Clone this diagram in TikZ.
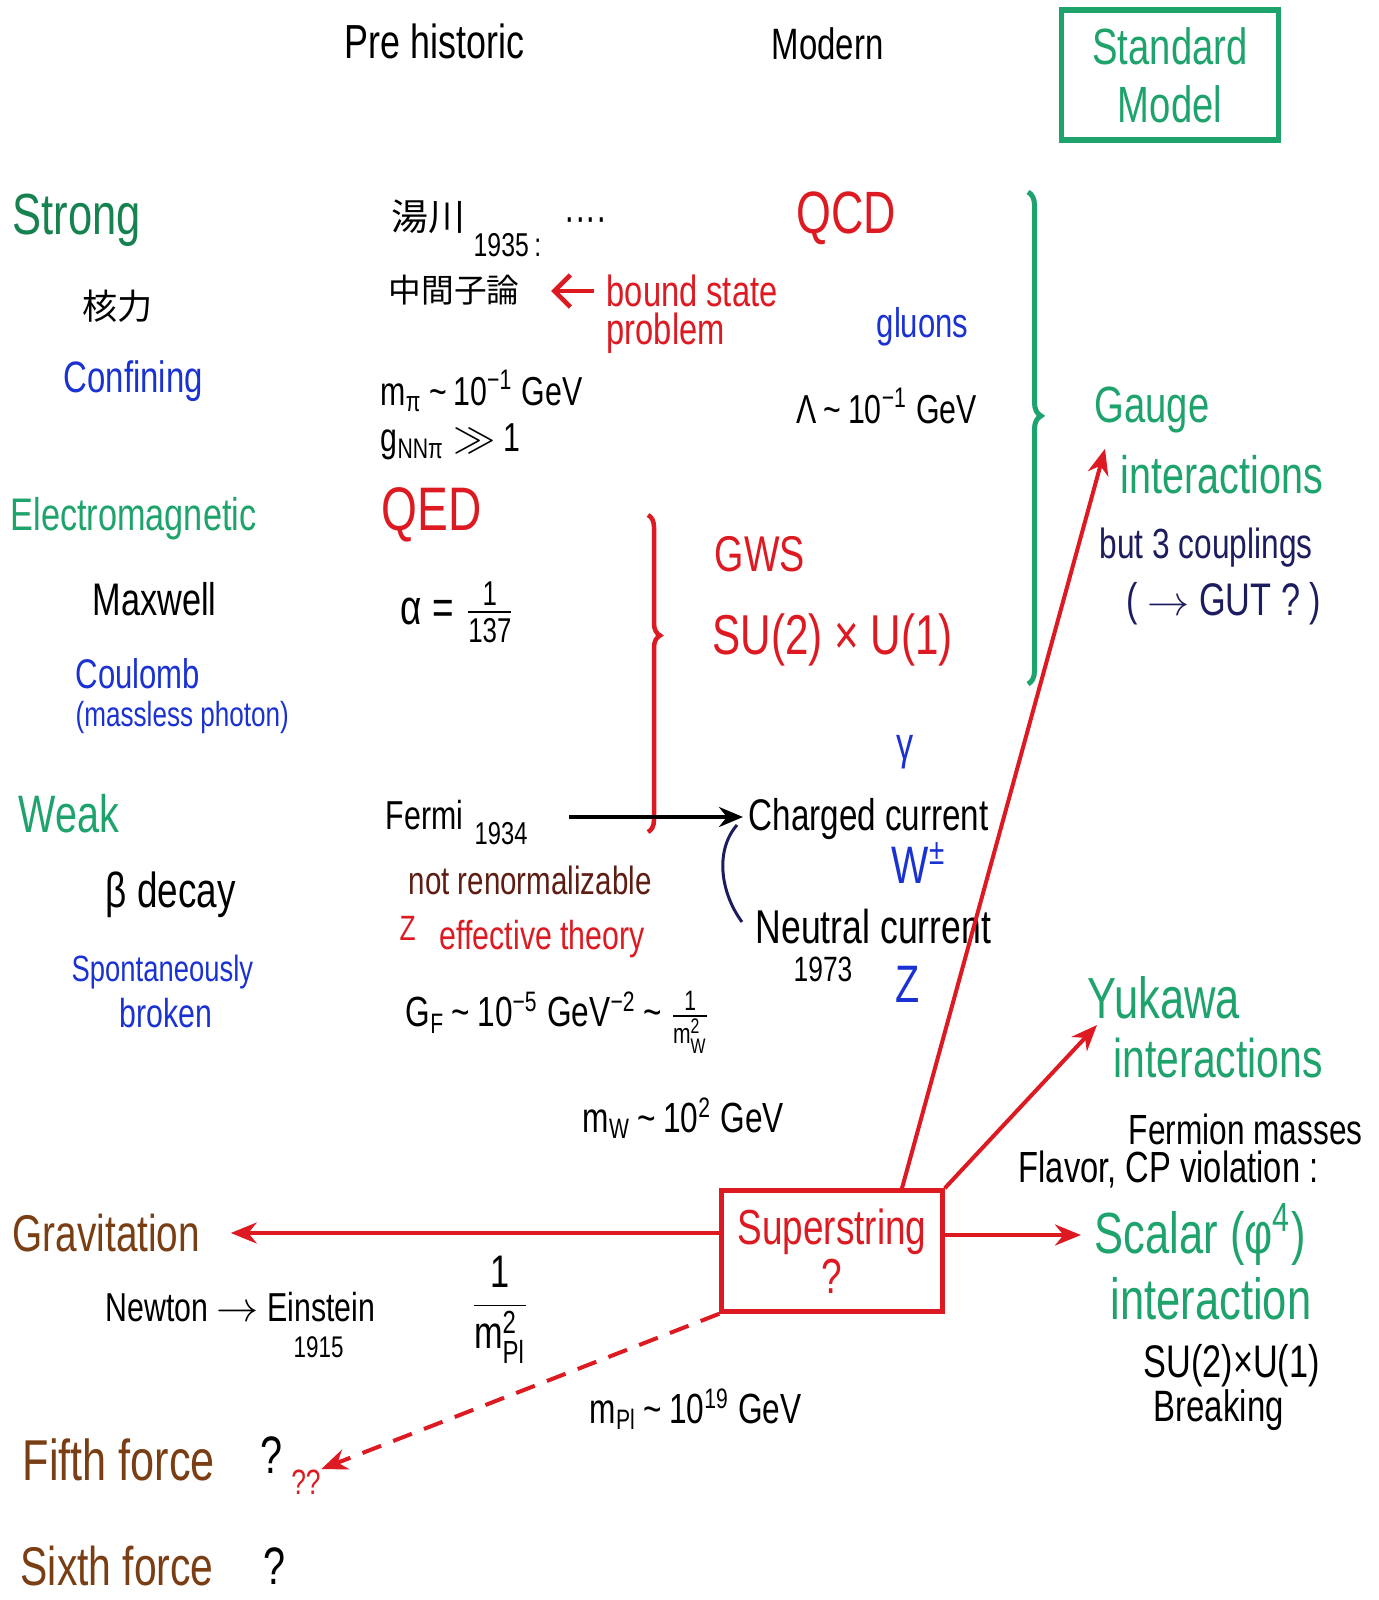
\documentclass[tikz,border=0pt]{standalone}
\usepackage{amsmath}
\usepackage{fontspec}
\setmainfont{Liberation Sans}[FakeStretch=0.75]
\newfontfamily\cjk{Noto Sans CJK JP}
\usepackage{xcolor}
\definecolor{SMGreen}{HTML}{1FA36C}
\definecolor{StrongGreen}{HTML}{15824F}
\definecolor{InkRed}{HTML}{DD1A22}
\definecolor{InkBlue}{HTML}{1B32D2}
\definecolor{InkBrown}{HTML}{7A3E14}
\definecolor{InkMaroon}{HTML}{5E1C12}
\definecolor{InkNavy}{HTML}{1C1C5E}
\usetikzlibrary{arrows.meta, calc, decorations.pathreplacing}
\newcommand{\tl}{\,\textasciitilde\,}

\begin{document}
\begin{tikzpicture}[x=0.1mm, y=-0.1mm,
  txt/.style={anchor=west, inner sep=0pt},
  pen/.style={font=\fontsize{#1}{#1}\selectfont},
  redarrow/.style={InkRed, line width=0.4mm, -{Stealth[length=2.6mm, width=2.1mm]}},
]
\useasboundingbox (0,0) rectangle (1378,1600);

% column heads
\node[txt, pen=13.6] (prehist) at (344,41) {Pre historic};
\node[txt, pen=12.5] (modern) at (771,44) {Modern};
\node[draw=SMGreen, line width=0.55mm, text=SMGreen, pen=14.5, align=center,
  minimum width=21.7mm, minimum height=13mm, inner sep=0pt] (sm) at (1170,75) {Standard\\[2pt]Model};

% strong
\node[txt, StrongGreen, pen=16.5] (strong) at (12,220) {Strong};
\node[txt, font={\cjk\fontsize{10}{10}\selectfont}] (kaku) at (82,306) {核力};
\node[txt, InkBlue, pen=12.5] (confining) at (63,381) {Confining};
\node[txt, font={\cjk\fontsize{10.5}{10.5}\selectfont}] (yukawaname) at (391,217) {湯川};
\node[txt, pen=9.4] (y1935) at (473,245) {1935\,:};
\node[txt, pen=12] (dots) at (564,225) {····};
\node[txt, font={\cjk\fontsize{9.3}{9.3}\selectfont}] (meson) at (388,290) {中間子論};
\node[txt, InkRed, pen=12.4] (bound) at (606,291) {bound state};
\node[txt, InkRed, pen=12.4] (problem) at (606,333) {problem};
\draw[InkRed, line width=0.45mm, -{Straight Barb[length=1.6mm, width=3.2mm]},
  shorten <=1.2mm, shorten >=3.1mm] (bound.west) -- (bound.west -| meson.east);
\node[txt, InkRed, pen=17] (qcd) at (796,218) {QCD};
\node[txt, InkBlue, pen=11.8] (gluons) at (876,327) {gluons};
\node[txt, pen=11.5] (mpi) at (380,391) {m\textsubscript{π}\tl10\textsuperscript{−1} GeV};
\node[txt, pen=11.5] (gnn) at (380,442) {g\textsubscript{NNπ} $\gg$ 1};
\node[txt, pen=11.5] (lambda) at (796,406) {Λ\tl10\textsuperscript{−1} GeV};

% gauge brace
\draw[SMGreen, line width=0.5mm, decorate, decoration={brace, amplitude=1.3mm, aspect=0.455}]
  (1028,192) -- (1028,684);
\node[txt, SMGreen, pen=14.5] (gauge) at (1094,410) {Gauge};
\node[txt, SMGreen, pen=15] (ginter) at (1120,475) {interactions};
\node[txt, InkNavy, pen=12] (couplings) at (1099,548) {but 3 couplings};
\node[txt, InkNavy, pen=13] (gut) at (1126,604) {( $\rightarrow$ GUT ? )};

% electromagnetic
\node[txt, SMGreen, pen=13] (em) at (10,519) {Electromagnetic};
\node[txt, pen=13] (maxwell) at (92,599) {Maxwell};
\node[txt, InkBlue, pen=11.8] (coulomb) at (75,674) {Coulomb};
\node[txt, InkBlue, pen=9.9] (massless) at (75,717) {(massless photon)};
\node[txt, InkRed, pen=17.5] (qed) at (381,515) {QED};
\node[txt, pen=14] (alpha) at (400,612) {α = $\frac{\text{1}}{\text{137}}$};
\draw[InkRed, line width=0.45mm, decorate, decoration={brace, amplitude=1.2mm, aspect=0.38}]
  (648,515) -- (648,832);
\node[txt, InkRed, pen=14.3] (gws) at (714,554) {GWS};
\node[txt, InkRed, pen=16] (su2) at (712,640) {SU(2) × U(1)};
\node[InkBlue, pen=13, inner sep=0pt] (gamma) at (905,752) {γ};

% weak
\node[txt, SMGreen, pen=15] (weak) at (18,814) {Weak};
\node[txt, pen=14] (beta) at (105,895) {β decay};
\node[txt, InkBlue, pen=10.4] (spont) at (71,972) {Spontaneously};
\node[txt, InkBlue, pen=11.5] (broken) at (119,1013) {broken};
\node[txt, pen=11.5] (fermi) at (385,815) {Fermi};
\node[txt, pen=9] (y1934) at (474,834) {1934};
\node[txt, pen=12.6] (cc) at (748,819) {Charged current};
\node[InkBlue, pen=15, inner sep=0pt] (wpm) at (919,863) {W\textsuperscript{±}};
\node[txt, pen=13.5] (nc) at (755,927) {Neutral current};
\node[txt, pen=10] (y1973) at (793,969) {1973};
\node[InkBlue, pen=15, inner sep=0pt] (zb) at (908,984) {Z};
\coordinate (fermitail) at (569,817);
\draw[line width=0.35mm, -{Stealth[length=2.4mm, width=2mm]}, shorten >=0.5mm]
  (fermitail) -- (fermitail -| cc.west);
\draw[InkNavy, line width=0.3mm] ($(cc.west)+(-11,6)$) .. controls +(-22,25) and +(-22,-30) .. ($(nc.west)+(-13,-5)$);
\node[txt, InkMaroon, pen=11.2] (notren) at (408,880) {not renormalizable};
\node[txt, InkRed, pen=10] (effz) at (399,928) {Z};
\node[txt, InkRed, pen=11.5] (eff) at (439,939) {effective theory};
\node[txt, pen=12] (gf) at (405,1022) {G\textsubscript{F}\tl10\textsuperscript{−5} GeV\textsuperscript{−2}\tl$\frac{\text{1}}{\text{m}_{\text{W}}^{\text{2}}}$};
\node[txt, pen=12] (mw) at (582,1118) {m\textsubscript{W}\tl10\textsuperscript{2} GeV};

% yukawa and scalar
\node[txt, SMGreen, pen=16.5] (yukawa) at (1087,998) {Yukawa};
\node[txt, SMGreen, pen=15.5] (yinter) at (1113,1058) {interactions};
\node[txt, pen=12] (fermion) at (1128,1129) {Fermion masses};
\node[txt, pen=12.4] (flavor) at (1018,1169) {Flavor, CP violation :};
\node[draw=InkRed, line width=0.45mm, text=InkRed, pen=14, align=center,
  minimum width=22.1mm, minimum height=12.1mm, inner sep=0pt] (ss) at (832,1251) {Superstring\\[0pt]?};
\node[txt, SMGreen, pen=16.5] (scalar) at (1094,1235) {Scalar (φ\textsuperscript{4})};
\node[txt, SMGreen, pen=16.5] (sinter) at (1110,1299) {interaction};
\node[txt, pen=13] (su2b) at (1143,1366) {SU(2)×U(1)};
\node[txt, pen=12.5] (breaking) at (1153,1410) {Breaking};

% gravitation and beyond
\node[txt, InkBrown, pen=14.7] (grav) at (12,1233) {Gravitation};
\node[txt, pen=11.5] (newton) at (105,1307) {Newton $\rightarrow$ Einstein};
\node[txt, pen=8.5] (y1915) at (293,1347) {1915};
\node[pen=13, inner sep=0pt] (mplfrac) at (500,1310) {$\dfrac{\text{1}}{\text{m}_{\text{Pl}}^{\text{2}}}$};
\node[txt, pen=12] (mpl) at (589,1409) {m\textsubscript{Pl}\tl10\textsuperscript{19} GeV};
\node[txt, InkBrown, pen=16.4] (fifth) at (22,1460) {Fifth force};
\node[txt, pen=15] (fifthq) at (260,1455) {?};
\node[InkRed, pen=10, inner sep=0pt] (qq) at (306,1482) {??};
\node[txt, InkBrown, pen=15.5] (sixth) at (20,1566) {Sixth force};
\node[txt, pen=15] (sixthq) at (263,1566) {?};

\draw[redarrow, shorten >=3mm] (ss.west |- grav.east) -- (grav.east);
\draw[redarrow, shorten >=1.3mm] (ss.east |- scalar.west) -- (scalar.west);
\draw[redarrow] (ss.north east) -- ($(yukawa.south west)+(10,5)$);
\draw[redarrow] ($(ss.north)+(70,0)$) -- ($(gauge.south west)+(11,15)$);
\draw[redarrow, dash pattern=on 2mm off 1.3mm] (ss.south west) -- (qq.north east);
\end{tikzpicture}
\end{document}
